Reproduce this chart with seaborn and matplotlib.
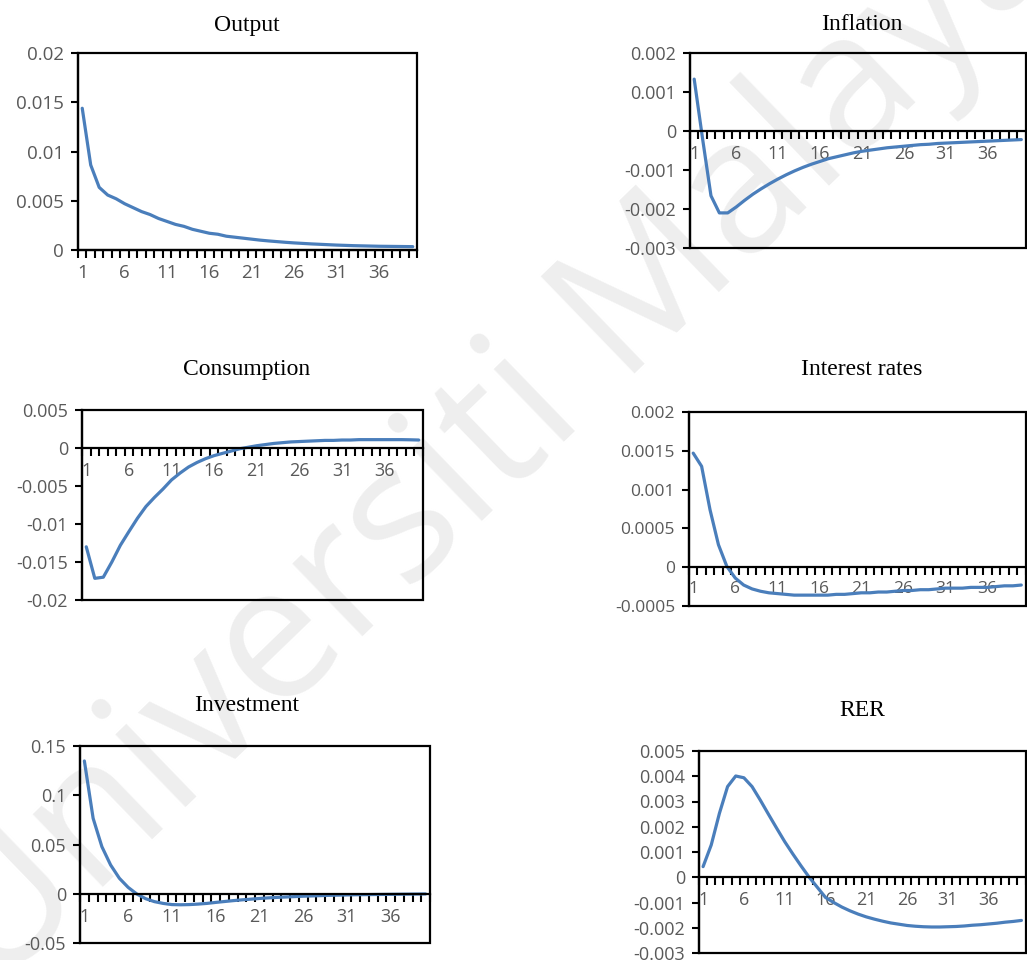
import numpy as np
import pandas as pd
import matplotlib
matplotlib.use("Agg")
import matplotlib.pyplot as plt
from matplotlib.patches import Rectangle
import seaborn as sns

periods = list(range(1, 41))

output = [0.01439, 0.00863, 0.00636, 0.00558, 0.0052, 0.0047, 0.0043, 0.0039, 0.0036, 0.0032,
          0.0029, 0.0026, 0.0024, 0.0021, 0.0019, 0.0017, 0.0016, 0.0014, 0.0013, 0.0012,
          0.0011, 0.0010, 0.00092, 0.00085, 0.00078, 0.00072, 0.00067, 0.00062, 0.00058, 0.00054,
          0.0005, 0.00047, 0.00044, 0.00042, 0.0004, 0.00038, 0.00037, 0.00036, 0.00035, 0.00034]

inflation = [0.00133, -0.0002, -0.00166, -0.0021, -0.0021, -0.00195, -0.00178, -0.00162, -0.00148, -0.00135,
             -0.00123, -0.00112, -0.00102, -0.00093, -0.00085, -0.00078, -0.00071, -0.00066, -0.00061, -0.00056,
             -0.00052, -0.00049, -0.00046, -0.00043, -0.00041, -0.00039, -0.00037, -0.00035, -0.00034, -0.00032,
             -0.00031, -0.0003, -0.00029, -0.00028, -0.00027, -0.00026, -0.00025, -0.00024, -0.00023, -0.00022]

consumption = [-0.013, -0.01715, -0.0170, -0.0150, -0.0128, -0.0110, -0.00925, -0.0077, -0.0065, -0.0054,
               -0.0042, -0.0033, -0.0025, -0.0019, -0.0014, -0.0010, -0.0007, -0.0004, -0.0001, 0.0001,
               0.0003, 0.00045, 0.0006, 0.0007, 0.0008, 0.00085, 0.0009, 0.00095, 0.001, 0.001,
               0.00105, 0.00105, 0.0011, 0.0011, 0.0011, 0.0011, 0.0011, 0.0011, 0.00108, 0.00105]

interest = [0.00147, 0.0013, 0.00074, 0.00029, 0.00001, -0.00014, -0.00023, -0.00028, -0.00031, -0.00033,
            -0.00034, -0.00035, -0.00036, -0.00036, -0.00036, -0.00036, -0.00036, -0.00035, -0.00035, -0.00034,
            -0.00033, -0.00033, -0.00032, -0.00032, -0.00031, -0.0003, -0.0003, -0.00029, -0.00029, -0.00028,
            -0.00027, -0.00027, -0.00027, -0.00026, -0.00026, -0.00026, -0.00025, -0.00024, -0.00024, -0.00023]

investment = [0.1348, 0.0766, 0.0478, 0.0292, 0.0157, 0.0065, -0.0003, -0.005, -0.008, -0.0098,
              -0.0110, -0.0112, -0.0110, -0.0105, -0.0098, -0.0088, -0.0079, -0.0070, -0.0062, -0.0055,
              -0.0048, -0.0042, -0.0037, -0.0033, -0.0029, -0.0025, -0.0022, -0.0019, -0.0016, -0.0014,
              -0.0012, -0.0010, -0.0009, -0.0008, -0.0007, -0.0006, -0.0005, -0.0004, -0.0003, -0.0002]

rer = [0.00042, 0.00128, 0.00253, 0.00359, 0.00401, 0.00394, 0.00359, 0.00306, 0.0025, 0.00195,
       0.00141, 0.00092, 0.00045, 0.0000, -0.0004, -0.0008, -0.00100, -0.00118, -0.00133, -0.00146,
       -0.00157, -0.00166, -0.00174, -0.00181, -0.00186, -0.00191, -0.00194, -0.00196, -0.00197, -0.00197,
       -0.00196, -0.00195, -0.00193, -0.0019, -0.00188, -0.00185, -0.00182, -0.00178, -0.00175, -0.00171]

titles = ["Output", "Inflation", "Consumption", "Interest rates", "Investment", "RER"]
series = [output, inflation, consumption, interest, investment, rer]
yticks = [
    [0, 0.005, 0.01, 0.015, 0.02],
    [-0.003, -0.002, -0.001, 0, 0.001, 0.002],
    [-0.02, -0.015, -0.01, -0.005, 0, 0.005],
    [-0.0005, 0, 0.0005, 0.001, 0.0015, 0.002],
    [-0.05, 0, 0.05, 0.1, 0.15],
    [-0.003, -0.002, -0.001, 0, 0.001, 0.002, 0.003, 0.004, 0.005],
]
xlabels = [1, 6, 11, 16, 21, 26, 31, 36]
watermark = "Universiti Malaya"

sns.set_theme(style="white")
plt.rcParams["font.family"] = ["Open Sans", "DejaVu Sans"]

W, H = 1027, 960
fig = plt.figure(figsize=(W / 100, H / 100), dpi=100)

# axes boxes in pixels: left, right, top, bottom
boxes = [
    (78, 417, 53, 250),
    (690, 1025.5, 53, 248),
    (82, 423, 410, 600),
    (689, 1025.5, 412, 606),
    (80, 430, 746, 943),
    (699, 1025.5, 751, 953),
]
title_pos = [(247, 30.7), (862, 30), (247, 375), (862, 375), (247, 710.7), (862, 716)]
tick_fs = [13.5, 13, 13, 12.5, 13, 13]

fig.text(0.484, 0.544, watermark, fontsize=135, color="#eeeeee",
         rotation=44, rotation_mode="anchor", ha="center", va="center", zorder=-5,
         family=["Open Sans", "DejaVu Sans"])

blue = "#4A7EBB"
for i in range(6):
    l, r, t, b = boxes[i]
    ax = fig.add_axes([l / W, 1 - b / H, (r - l) / W, (b - t) / H])
    ax.patch.set_alpha(0)
    df = pd.DataFrame({"period": periods, "value": series[i]})
    sns.lineplot(data=df, x="period", y="value", ax=ax, color=blue, linewidth=2.3)
    ax.set_xlim(0.5, 40.5)
    ax.set_ylim(yticks[i][0], yticks[i][-1])
    ax.set_xlabel("")
    ax.set_ylabel("")
    ax.set_yticks(yticks[i])
    ax.set_yticklabels(["{:g}".format(v) for v in yticks[i]])
    ax.set_xticks(xlabels)
    ax.set_xticklabels([str(v) for v in xlabels])
    ax.set_xticks(np.arange(0.5, 41, 1.0), minor=True)
    ax.tick_params(axis="x", which="major", length=0, pad=10, labelsize=tick_fs[i], labelcolor="#595959")
    ax.tick_params(axis="x", which="minor", length=6, width=1.5, color="black", direction="out", bottom=True)
    ax.tick_params(axis="y", which="major", length=5, width=1.5, color="black", direction="out",
                   left=True, pad=5, labelsize=tick_fs[i], labelcolor="#595959")
    for s in ["top", "right"]:
        ax.spines[s].set_visible(False)
    ax.spines["left"].set_color("black")
    ax.spines["left"].set_linewidth(1.6)
    ax.spines["bottom"].set_position(("data", 0))
    ax.spines["bottom"].set_color("black")
    ax.spines["bottom"].set_linewidth(1.6)
    ax.add_patch(Rectangle((0, 0), 1, 1, transform=ax.transAxes, fill=False,
                           edgecolor="black", linewidth=1.6, clip_on=False, zorder=3))
    ax.grid(False)
    tx, ty = title_pos[i]
    fig.text(tx / W, 1 - ty / H, titles[i], ha="center", va="baseline",
             fontsize=17, family=["Liberation Serif", "DejaVu Serif"], color="black")

fig.savefig("out.png", dpi=100)
